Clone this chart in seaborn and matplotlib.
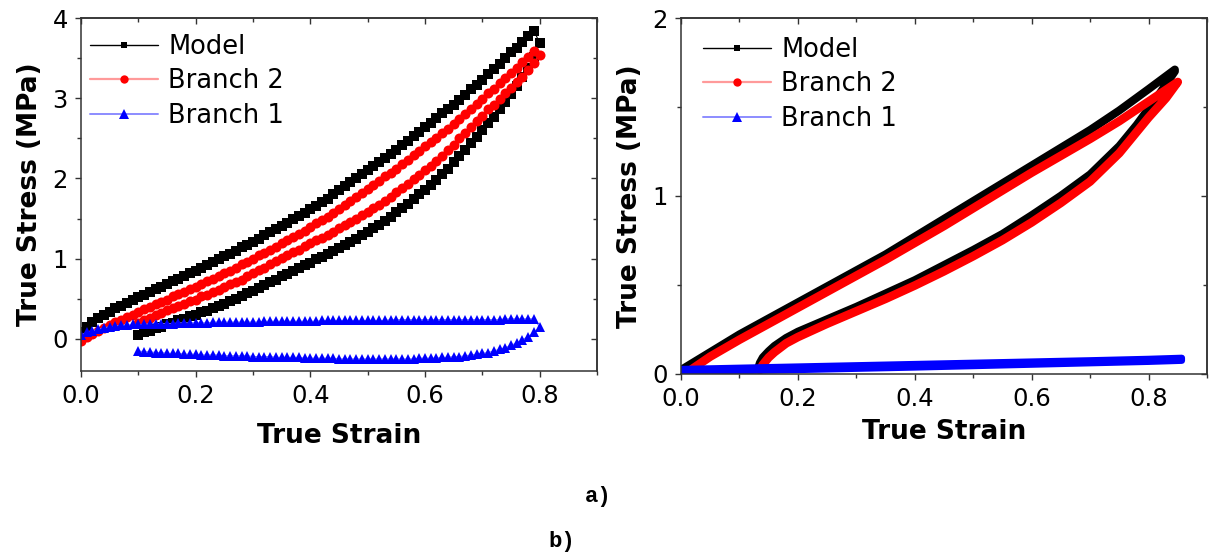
import matplotlib
matplotlib.use("Agg")
import matplotlib.pyplot as plt
from matplotlib.lines import Line2D
from matplotlib.ticker import MultipleLocator
import seaborn as sns

# ---------------- Panel a (left) ----------------
strain_load_a = [0.00, 0.01, 0.02, 0.03, 0.04, 0.05, 0.06, 0.07, 0.08, 0.09,
                 0.10, 0.11, 0.12, 0.13, 0.14, 0.15, 0.16, 0.17, 0.18, 0.19,
                 0.20, 0.21, 0.22, 0.23, 0.24, 0.25, 0.26, 0.27, 0.28, 0.29,
                 0.30, 0.31, 0.32, 0.33, 0.34, 0.35, 0.36, 0.37, 0.38, 0.39,
                 0.40, 0.41, 0.42, 0.43, 0.44, 0.45, 0.46, 0.47, 0.48, 0.49,
                 0.50, 0.51, 0.52, 0.53, 0.54, 0.55, 0.56, 0.57, 0.58, 0.59,
                 0.60, 0.61, 0.62, 0.63, 0.64, 0.65, 0.66, 0.67, 0.68, 0.69,
                 0.70, 0.71, 0.72, 0.73, 0.74, 0.75, 0.76, 0.77, 0.78, 0.79]
strain_unload_a = [0.80, 0.79, 0.78, 0.77, 0.76, 0.75, 0.74, 0.73, 0.72, 0.71,
                   0.70, 0.69, 0.68, 0.67, 0.66, 0.65, 0.64, 0.63, 0.62, 0.61,
                   0.60, 0.59, 0.58, 0.57, 0.56, 0.55, 0.54, 0.53, 0.52, 0.51,
                   0.50, 0.49, 0.48, 0.47, 0.46, 0.45, 0.44, 0.43, 0.42, 0.41,
                   0.40, 0.39, 0.38, 0.37, 0.36, 0.35, 0.34, 0.33, 0.32, 0.31,
                   0.30, 0.29, 0.28, 0.27, 0.26, 0.25, 0.24, 0.23, 0.22, 0.21,
                   0.20, 0.19, 0.18, 0.17, 0.16, 0.15, 0.14, 0.13, 0.12, 0.11,
                   0.10]

model_load_a = [0.08, 0.15, 0.21, 0.26, 0.30, 0.34, 0.38, 0.41, 0.45, 0.48,
                0.52, 0.55, 0.58, 0.62, 0.65, 0.68, 0.72, 0.75, 0.78, 0.82,
                0.85, 0.89, 0.92, 0.96, 0.99, 1.03, 1.06, 1.10, 1.14, 1.17,
                1.21, 1.25, 1.29, 1.33, 1.37, 1.41, 1.45, 1.49, 1.53, 1.57,
                1.62, 1.66, 1.71, 1.75, 1.80, 1.85, 1.90, 1.95, 2.00, 2.05,
                2.10, 2.15, 2.20, 2.26, 2.31, 2.36, 2.42, 2.47, 2.53, 2.58,
                2.64, 2.69, 2.75, 2.81, 2.86, 2.92, 2.98, 3.04, 3.11, 3.17,
                3.23, 3.30, 3.36, 3.43, 3.50, 3.57, 3.63, 3.70, 3.77, 3.84]
model_unload_a = [3.69, 3.52, 3.38, 3.26, 3.15, 3.05, 2.95, 2.86, 2.77, 2.69,
                  2.60, 2.52, 2.44, 2.36, 2.28, 2.20, 2.12, 2.05, 1.98, 1.92,
                  1.86, 1.80, 1.74, 1.68, 1.63, 1.58, 1.52, 1.47, 1.42, 1.38,
                  1.33, 1.29, 1.25, 1.21, 1.17, 1.13, 1.09, 1.06, 1.02, 0.99,
                  0.95, 0.92, 0.88, 0.85, 0.81, 0.78, 0.74, 0.71, 0.67, 0.64,
                  0.60, 0.57, 0.53, 0.50, 0.47, 0.44, 0.41, 0.38, 0.35, 0.33,
                  0.30, 0.28, 0.25, 0.23, 0.20, 0.18, 0.15, 0.13, 0.10, 0.08,
                  0.05]

branch2_load_a = [-0.02, 0.02, 0.06, 0.10, 0.14, 0.17, 0.21, 0.24, 0.27, 0.30,
                  0.33, 0.37, 0.40, 0.43, 0.46, 0.49, 0.53, 0.56, 0.59, 0.62,
                  0.65, 0.69, 0.72, 0.75, 0.78, 0.82, 0.85, 0.89, 0.93, 0.96,
                  1.00, 1.04, 1.07, 1.11, 1.15, 1.19, 1.23, 1.27, 1.31, 1.35,
                  1.40, 1.44, 1.48, 1.52, 1.57, 1.62, 1.67, 1.72, 1.77, 1.82,
                  1.87, 1.92, 1.97, 2.03, 2.07, 2.12, 2.18, 2.23, 2.29, 2.34,
                  2.40, 2.45, 2.51, 2.57, 2.62, 2.68, 2.74, 2.80, 2.87, 2.93,
                  2.99, 3.06, 3.12, 3.19, 3.25, 3.32, 3.38, 3.45, 3.52, 3.59]
branch2_unload_a = [3.54, 3.44, 3.35, 3.27, 3.20, 3.13, 3.06, 2.99, 2.92, 2.86,
                    2.78, 2.71, 2.64, 2.57, 2.50, 2.42, 2.35, 2.28, 2.22, 2.16,
                    2.10, 2.04, 1.99, 1.93, 1.88, 1.83, 1.77, 1.72, 1.67, 1.63,
                    1.58, 1.54, 1.50, 1.46, 1.42, 1.38, 1.33, 1.30, 1.26, 1.23,
                    1.19, 1.16, 1.11, 1.08, 1.04, 1.01, 0.97, 0.93, 0.89, 0.86,
                    0.82, 0.78, 0.74, 0.71, 0.68, 0.65, 0.61, 0.58, 0.55, 0.53,
                    0.49, 0.47, 0.44, 0.41, 0.38, 0.36, 0.32, 0.30, 0.26, 0.24,
                    0.20]

branch1_load_a = [0.05, 0.08, 0.10, 0.12, 0.14, 0.15, 0.16, 0.17, 0.17, 0.18,
                  0.18, 0.18, 0.19, 0.19, 0.19, 0.19, 0.19, 0.20, 0.20, 0.20,
                  0.20, 0.20, 0.20, 0.21, 0.21, 0.21, 0.21, 0.21, 0.21, 0.21,
                  0.21, 0.21, 0.22, 0.22, 0.22, 0.22, 0.22, 0.22, 0.22, 0.22,
                  0.22, 0.22, 0.23, 0.23, 0.23, 0.23, 0.23, 0.23, 0.23, 0.23,
                  0.23, 0.23, 0.23, 0.23, 0.24, 0.24, 0.24, 0.24, 0.24, 0.24,
                  0.24, 0.24, 0.24, 0.24, 0.24, 0.24, 0.24, 0.24, 0.24, 0.24,
                  0.24, 0.24, 0.24, 0.24, 0.25, 0.25, 0.25, 0.25, 0.25, 0.25]
branch1_unload_a = [0.15, 0.08, 0.03, -0.01, -0.05, -0.08, -0.11, -0.13, -0.15, -0.17,
                    -0.18, -0.19, -0.20, -0.21, -0.22, -0.22, -0.23, -0.23, -0.24, -0.24,
                    -0.24, -0.24, -0.25, -0.25, -0.25, -0.25, -0.25, -0.25, -0.25, -0.25,
                    -0.25, -0.25, -0.25, -0.25, -0.25, -0.25, -0.24, -0.24, -0.24, -0.24,
                    -0.24, -0.24, -0.23, -0.23, -0.23, -0.23, -0.23, -0.22, -0.22, -0.22,
                    -0.22, -0.21, -0.21, -0.21, -0.21, -0.21, -0.20, -0.20, -0.20, -0.20,
                    -0.19, -0.19, -0.19, -0.18, -0.18, -0.18, -0.17, -0.17, -0.16, -0.16,
                    -0.15]

# ---------------- Panel b (right) ----------------
strain_model_load_b = [0.00, 0.05, 0.10, 0.15, 0.20, 0.25, 0.30, 0.35, 0.40,
                       0.45, 0.50, 0.55, 0.60, 0.65, 0.70, 0.75, 0.80, 0.845]
model_load_b = [0.02, 0.12, 0.22, 0.31, 0.40, 0.49, 0.58, 0.67, 0.77,
                0.87, 0.97, 1.07, 1.17, 1.27, 1.37, 1.48, 1.60, 1.71]
strain_model_unload_b = [0.845, 0.82, 0.80, 0.78, 0.75, 0.70, 0.65, 0.60, 0.55, 0.50, 0.45,
                         0.40, 0.35, 0.30, 0.25, 0.20, 0.18, 0.16, 0.15, 0.14, 0.135, 0.132]
model_unload_b = [1.70, 1.58, 1.49, 1.40, 1.28, 1.12, 1.00, 0.89, 0.785, 0.695, 0.61,
                  0.525, 0.45, 0.375, 0.305, 0.235, 0.20, 0.155, 0.125, 0.09, 0.06, 0.03]

strain_b2_load_b = [0.01, 0.05, 0.10, 0.15, 0.20, 0.25, 0.30, 0.35, 0.40,
                    0.45, 0.50, 0.55, 0.60, 0.65, 0.70, 0.75, 0.80, 0.85]
branch2_load_b = [0.005, 0.095, 0.19, 0.28, 0.37, 0.46, 0.55, 0.64, 0.735,
                  0.83, 0.93, 1.03, 1.13, 1.225, 1.32, 1.42, 1.53, 1.64]
strain_b2_unload_b = [0.85, 0.83, 0.80, 0.78, 0.75, 0.70, 0.65, 0.60, 0.55, 0.50, 0.45,
                      0.40, 0.35, 0.30, 0.25, 0.20, 0.18, 0.16, 0.15, 0.14, 0.135]
branch2_unload_b = [1.64, 1.55, 1.44, 1.36, 1.24, 1.08, 0.96, 0.85, 0.75, 0.66, 0.575,
                    0.495, 0.42, 0.35, 0.28, 0.205, 0.17, 0.12, 0.09, 0.05, 0.02]

strain_b1_load_b = [0.00, 0.10, 0.20, 0.30, 0.40, 0.50, 0.60, 0.70, 0.80, 0.857]
branch1_load_b = [0.025, 0.032, 0.039, 0.046, 0.053, 0.060, 0.067, 0.074, 0.082, 0.088]
strain_b1_unload_b = [0.857, 0.80, 0.70, 0.60, 0.50, 0.40, 0.30, 0.20, 0.10, 0.00]
branch1_unload_b = [0.072, 0.066, 0.058, 0.050, 0.042, 0.034, 0.027, 0.020, 0.014, 0.010]

series_labels = ["Model", "Branch 2", "Branch 1"]
x_label = "True Strain"
y_label = "True Stress (MPa)"

# ---------------- Styling ----------------
sns.set_style("ticks")
plt.rcParams["font.family"] = ["DejaVu Sans"]
plt.rcParams["axes.linewidth"] = 1.1
plt.rcParams["axes.edgecolor"] = "#333333"
plt.rcParams["text.color"] = "black"
plt.rcParams["axes.labelcolor"] = "black"
plt.rcParams["xtick.color"] = "black"
plt.rcParams["ytick.color"] = "black"

fig = plt.figure(figsize=(12.12, 5.58), dpi=100)
W, H = 1212.0, 558.0
ax_a = fig.add_axes([81 / W, 1 - 371 / H, (597 - 81) / W, (371 - 18) / H])
ax_b = fig.add_axes([681 / W, 1 - 373.5 / H, (1207 - 681) / W, (373.5 - 18) / H])

# Panel a: dense markers
sns.lineplot(x=strain_load_a + strain_unload_a, y=model_load_a + model_unload_a,
             sort=False, estimator=None, ax=ax_a, color="black", linewidth=0.8,
             marker="s", markersize=6.8, markerfacecolor="black",
             markeredgewidth=0, legend=False)
sns.lineplot(x=strain_load_a + strain_unload_a, y=branch2_load_a + branch2_unload_a,
             sort=False, estimator=None, ax=ax_a, color="#ff8080", linewidth=0.8,
             marker="o", markersize=7.2, markerfacecolor="red",
             markeredgewidth=0, legend=False)
sns.lineplot(x=strain_load_a + strain_unload_a, y=branch1_load_a + branch1_unload_a,
             sort=False, estimator=None, ax=ax_a, color="#8080ff", linewidth=0.8,
             marker="^", markersize=7.5, markerfacecolor="blue",
             markeredgewidth=0, legend=False)

# Panel b: very dense markers rendered as thick bands
sns.lineplot(x=strain_model_load_b + strain_model_unload_b,
             y=model_load_b + model_unload_b, sort=False, estimator=None, ax=ax_b,
             color="black", linewidth=5.8, solid_capstyle="round",
             solid_joinstyle="round", legend=False)
sns.lineplot(x=strain_b2_load_b + strain_b2_unload_b,
             y=branch2_load_b + branch2_unload_b, sort=False, estimator=None, ax=ax_b,
             color="red", linewidth=6.2, solid_capstyle="round",
             solid_joinstyle="round", legend=False)
sns.lineplot(x=strain_b1_load_b + strain_b1_unload_b,
             y=branch1_load_b + branch1_unload_b, sort=False, estimator=None, ax=ax_b,
             color="blue", linewidth=4.6, solid_capstyle="butt",
             solid_joinstyle="round", legend=False)


def style(ax, ylim, ymaj, ymin, xlabelpad):
    ax.set_xlim(0, 0.9)
    ax.set_ylim(*ylim)
    ax.xaxis.set_major_locator(MultipleLocator(0.2))
    ax.xaxis.set_minor_locator(MultipleLocator(0.1))
    ax.yaxis.set_major_locator(MultipleLocator(ymaj))
    ax.yaxis.set_minor_locator(MultipleLocator(ymin))
    ax.tick_params(which="major", direction="out", length=4.5, width=1.0,
                   color="#333333", labelcolor="black", labelsize=17.5, pad=5)
    ax.tick_params(which="minor", direction="out", length=2.8, width=1.0,
                   color="#333333")
    ax.set_xlabel(x_label, fontsize=19, fontweight="bold", labelpad=xlabelpad,
                  color="black")
    ax.set_ylabel(y_label, fontsize=19, fontweight="bold", labelpad=7,
                  color="black")
    top = ax.secondary_xaxis("top")
    top.xaxis.set_major_locator(MultipleLocator(0.2))
    top.xaxis.set_minor_locator(MultipleLocator(0.1))
    top.tick_params(which="major", direction="in", length=4.5, width=1.0,
                    color="#333333", labeltop=False)
    top.tick_params(which="minor", direction="in", length=2.8, width=1.0,
                    color="#333333")
    right = ax.secondary_yaxis("right")
    right.yaxis.set_major_locator(MultipleLocator(ymaj))
    right.yaxis.set_minor_locator(MultipleLocator(ymin))
    right.tick_params(which="major", direction="in", length=4.5, width=1.0,
                      color="#333333", labelright=False)
    right.tick_params(which="minor", direction="in", length=2.8, width=1.0,
                      color="#333333")
    for s in ax.spines.values():
        s.set_visible(True)


style(ax_a, (-0.4, 4.0), 1, 0.5, 11)
style(ax_b, (0.0, 2.0), 1, 0.5, 6)


def legend_handles():
    return [
        Line2D([0], [0], color="black", lw=1.0, marker="s", markersize=4.5,
               markerfacecolor="black", markeredgewidth=0),
        Line2D([0], [0], color="#ff9a9a", lw=1.6, marker="o", markersize=6.0,
               markerfacecolor="red", markeredgewidth=0),
        Line2D([0], [0], color="#8c8cff", lw=1.4, marker="^", markersize=6.5,
               markerfacecolor="blue", markeredgewidth=0),
    ]


for ax, xa in ((ax_a, (9 / 516, 0.955)), (ax_b, (22 / 526, 0.947))):
    leg = ax.legend(handles=legend_handles(), labels=series_labels, loc="upper left",
                    bbox_to_anchor=xa, frameon=False, fontsize=18.5,
                    handlelength=2.65, handletextpad=0.4, labelspacing=0.33,
                    borderpad=0, borderaxespad=0)
    for t in leg.get_texts():
        t.set_color("black")

fig.text(598 / W, 1 - 496.7 / H, "a)", ha="center", va="center",
         family="Liberation Mono", fontweight="bold", fontsize=16, color="black")
fig.text(561.7 / W, 1 - 541.7 / H, "b)", ha="center", va="center",
         family="Liberation Mono", fontweight="bold", fontsize=16, color="black")

fig.savefig("out.png", dpi=100, facecolor="white")
